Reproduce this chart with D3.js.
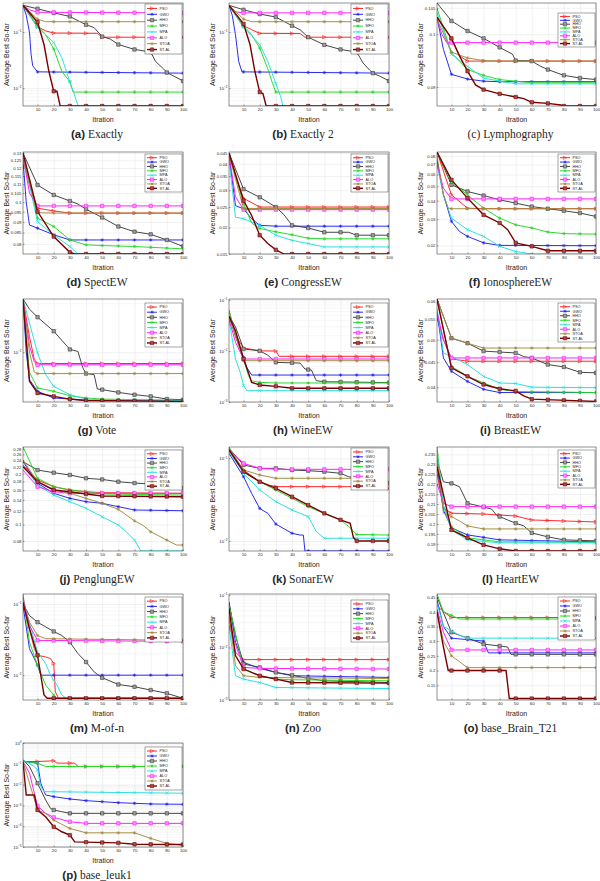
<!DOCTYPE html>
<html>
<head>
<meta charset="utf-8">
<script src="https://d3js.org/d3.v7.min.js"></script>
<style>
  body { margin: 0; background: #fff; }
  svg { display: block; background: #fff; }
  text { font-family: "Liberation Sans", Arial, sans-serif; fill: #262626; }
  .grid line { stroke: #e2e2e2; stroke-width: 0.5px; }
  .grid path { display: none; }
  .minor line { stroke: #eeeeee; stroke-width: 0.5px; }
  .axis path { display: none; }
  .axis line { stroke: #262626; stroke-width: 0.4px; }
  .axis text { font-size: 4.3px; }
  .series { fill: none; }
</style>
</head>
<body>
<div id="container"></div>
<script>

const algos = ["PSO", "GWO", "HHO", "MFO", "MPA", "ALO", "STOA", "ST-AL"];
const iterTicks = [10, 20, 30, 40, 50, 60, 70, 80, 90, 100];

// each panel: 8 series in algos order, [iteration, average best so-far]
const exactlyData = [
  [[1,0.30],[5,0.20],[10,0.125],[15,0.105],[20,0.096],[47,0.095],[50,0.081],[100,0.081]],
  [[1,0.30],[3,0.20],[5,0.10],[6,0.04],[7,0.025],[10,0.0195],[100,0.0185]],
  [[1,0.30],[10,0.26],[20,0.22],[30,0.19],[40,0.135],[45,0.12],[50,0.083],[55,0.075],[60,0.060],[70,0.049],[80,0.044],[83,0.030],[88,0.022],[90,0.019],[95,0.016],[100,0.0134]],
  [[1,0.30],[10,0.13],[15,0.09],[20,0.05],[25,0.02],[30,0.013],[32,0.0085],[100,0.0085]],
  [[1,0.30],[10,0.12],[15,0.09],[20,0.065],[25,0.035],[30,0.013],[34,0.006],[36,0.004],[100,0.004]],
  [[1,0.30],[5,0.25],[10,0.225],[100,0.22]],
  [[1,0.30],[10,0.17],[15,0.153],[100,0.153]],
  [[1,0.30],[10,0.15],[14,0.06],[17,0.02],[20,0.0088],[22,0.0088],[24,0.0048],[100,0.0048]]
];
const exactly2Data = [
  [[1,0.30],[5,0.20],[10,0.13],[15,0.11],[20,0.095],[45,0.094],[48,0.081],[100,0.081]],
  [[1,0.30],[3,0.20],[5,0.09],[7,0.03],[9,0.0195],[100,0.0185]],
  [[1,0.30],[10,0.25],[20,0.21],[30,0.185],[40,0.13],[45,0.11],[50,0.081],[60,0.059],[70,0.049],[80,0.044],[84,0.028],[88,0.021],[90,0.0185],[95,0.016],[100,0.0134]],
  [[1,0.30],[10,0.13],[15,0.09],[20,0.052],[25,0.022],[28,0.012],[30,0.0085],[100,0.0085]],
  [[1,0.30],[10,0.12],[15,0.085],[20,0.06],[25,0.03],[30,0.012],[33,0.007],[35,0.004],[100,0.004]],
  [[1,0.30],[5,0.23],[10,0.22],[100,0.22]],
  [[1,0.30],[10,0.17],[15,0.153],[100,0.153]],
  [[1,0.30],[10,0.14],[14,0.06],[17,0.02],[20,0.0085],[22,0.008],[24,0.0048],[100,0.0048]]
];
const lymphData = [
  [[1,0.1032],[10,0.0992],[15,0.0959],[20,0.0949],[100,0.0949]],
  [[1,0.1032],[5,0.0971],[10,0.0924],[20,0.0915],[30,0.0911],[40,0.0910],[100,0.0910]],
  [[1,0.1059],[10,0.1025],[20,0.1006],[30,0.0992],[40,0.0975],[48,0.0962],[50,0.0950],[60,0.0949],[65,0.0940],[70,0.0933],[80,0.0922],[90,0.0917],[100,0.0914]],
  [[1,0.1049],[10,0.0965],[20,0.0933],[30,0.0922],[40,0.0914],[50,0.0911],[60,0.0908],[100,0.0908]],
  [[1,0.1041],[10,0.0962],[20,0.0939],[30,0.0917],[40,0.0911],[50,0.0906],[100,0.0906]],
  [[1,0.1029],[4,0.1000],[7,0.0984],[100,0.0984]],
  [[1,0.1029],[10,0.0966],[20,0.0955],[30,0.0950],[40,0.0949],[100,0.0949]],
  [[1,0.1032],[10,0.0992],[15,0.0959],[20,0.0930],[25,0.0904],[30,0.0895],[40,0.0887],[50,0.0881],[55,0.0878],[60,0.0871],[70,0.0869],[78,0.0866],[80,0.0864],[100,0.0864]]
];
const spectData = [
  [[1,0.127],[5,0.11],[10,0.0968],[20,0.0954],[30,0.0943],[100,0.0943]],
  [[1,0.125],[3,0.10],[5,0.0885],[10,0.087],[20,0.084],[30,0.0817],[100,0.0817]],
  [[1,0.13],[10,0.1096],[20,0.1039],[30,0.1006],[35,0.099],[40,0.0963],[50,0.0921],[60,0.0878],[70,0.0854],[80,0.0842],[90,0.0817],[100,0.0789]],
  [[1,0.1307],[10,0.0918],[20,0.0878],[30,0.0817],[40,0.0796],[50,0.0793],[70,0.0789],[100,0.0779]],
  [[1,0.128],[10,0.0901],[20,0.0839],[30,0.0789],[35,0.0758],[100,0.0758]],
  [[1,0.128],[5,0.105],[10,0.098],[100,0.098]],
  [[1,0.125],[10,0.0945],[20,0.0943],[100,0.0943]],
  [[1,0.13],[10,0.0951],[20,0.0832],[30,0.0765],[33,0.0758],[100,0.0758]]
];
const congressData = [
  [[1,0.045],[5,0.035],[10,0.0275],[20,0.0250],[100,0.0250]],
  [[1,0.044],[5,0.0254],[10,0.0245],[15,0.022],[20,0.0205],[30,0.0203],[100,0.0203]],
  [[1,0.045],[10,0.0304],[20,0.0278],[30,0.0250],[35,0.023],[40,0.0205],[50,0.0199],[60,0.0190],[75,0.0190],[80,0.0184],[100,0.0184]],
  [[1,0.045],[10,0.0259],[15,0.021],[20,0.0198],[30,0.0191],[40,0.0185],[50,0.0178],[60,0.0177],[100,0.0177]],
  [[1,0.042],[5,0.0224],[10,0.022],[20,0.0205],[30,0.0184],[40,0.0174],[50,0.0168],[60,0.0162],[100,0.0162]],
  [[1,0.044],[5,0.028],[10,0.0243],[100,0.0243]],
  [[1,0.044],[10,0.0246],[100,0.0246]],
  [[1,0.045],[10,0.0268],[15,0.0228],[20,0.0184],[25,0.0168],[30,0.0157],[35,0.015],[100,0.015]]
];
const ionoData = [
  [[1,0.085],[10,0.0438],[20,0.0356],[30,0.0353],[100,0.0353]],
  [[1,0.075],[5,0.0438],[10,0.0290],[15,0.0248],[20,0.0230],[30,0.0208],[40,0.0200],[100,0.0199]],
  [[1,0.085],[10,0.0511],[20,0.0461],[30,0.0433],[40,0.0405],[50,0.0385],[60,0.0365],[70,0.0353],[80,0.0342],[90,0.0330],[100,0.0313]],
  [[1,0.085],[10,0.0538],[20,0.0438],[30,0.0356],[40,0.0305],[50,0.0275],[60,0.0262],[70,0.0246],[80,0.0240],[100,0.0238]],
  [[1,0.07],[5,0.0438],[10,0.0305],[20,0.0255],[30,0.0230],[40,0.0197],[50,0.0182],[60,0.0175],[100,0.0175]],
  [[1,0.07],[5,0.0486],[10,0.0411],[100,0.0411]],
  [[1,0.08],[5,0.0438],[8,0.0356],[10,0.0353],[100,0.0353]],
  [[1,0.085],[10,0.0552],[20,0.0416],[30,0.0321],[40,0.0283],[45,0.0255],[50,0.0208],[60,0.0197],[70,0.0184],[100,0.0184]]
];
const voteData = [
  [[1,0.0214],[5,0.0125],[8,0.0090],[10,0.0085],[100,0.0085]],
  [[1,0.0214],[3,0.010],[5,0.00675],[10,0.00571],[20,0.00519],[30,0.00511],[40,0.00501],[100,0.00501]],
  [[1,0.0214],[5,0.0185],[10,0.0165],[20,0.0135],[30,0.0104],[35,0.0101],[38,0.0080],[40,0.00736],[45,0.00725],[47,0.0059],[50,0.00585],[60,0.00562],[70,0.00544],[80,0.00531],[90,0.00511],[100,0.00506]],
  [[1,0.0214],[5,0.0075],[10,0.00599],[20,0.00571],[30,0.00536],[40,0.00519],[50,0.00511],[100,0.00501]],
  [[1,0.0214],[10,0.0099],[15,0.00725],[20,0.00613],[30,0.00544],[40,0.00511],[50,0.00506],[100,0.00501]],
  [[1,0.0214],[5,0.011],[8,0.0087],[10,0.00835],[100,0.00835]],
  [[1,0.0214],[5,0.010],[8,0.0075],[10,0.00736],[100,0.00736]],
  [[1,0.0214],[5,0.00659],[10,0.00557],[20,0.00531],[30,0.00511],[40,0.00501],[100,0.00494]]
];
const wineData = [
  [[1,0.0636],[5,0.02],[10,0.0115],[20,0.0101],[30,0.0100],[32,0.00787],[100,0.00787]],
  [[1,0.0485],[5,0.02],[10,0.0075],[12,0.0048],[15,0.00338],[100,0.00338]],
  [[1,0.0485],[5,0.03],[10,0.011],[20,0.0101],[25,0.0083],[30,0.0060],[45,0.0058],[48,0.00443],[52,0.00424],[55,0.00262],[60,0.0025],[100,0.0024]],
  [[1,0.0636],[5,0.02],[10,0.007],[13,0.0033],[15,0.0026],[20,0.00243],[30,0.00236],[100,0.00236]],
  [[1,0.0424],[5,0.007],[8,0.0038],[10,0.0021],[12,0.00167],[100,0.00167]],
  [[1,0.0424],[5,0.015],[10,0.00697],[100,0.00697]],
  [[1,0.0485],[5,0.02],[10,0.00646],[100,0.00646]],
  [[1,0.0485],[5,0.025],[10,0.007],[13,0.0038],[15,0.00243],[20,0.00216],[30,0.00203],[40,0.00186],[100,0.00186]]
];
const breastData = [
  [[1,0.0554],[5,0.050],[10,0.0457],[20,0.0452],[100,0.0452]],
  [[1,0.0571],[5,0.0459],[10,0.0431],[20,0.0411],[30,0.0396],[40,0.0390],[100,0.0390]],
  [[1,0.0606],[10,0.0504],[20,0.0492],[30,0.0474],[50,0.0470],[55,0.0462],[60,0.0459],[70,0.0445],[80,0.0440],[90,0.0429],[100,0.0428]],
  [[1,0.0606],[10,0.0441],[20,0.0421],[30,0.0408],[40,0.0396],[50,0.0392],[100,0.0390]],
  [[1,0.058],[5,0.047],[10,0.0462],[20,0.0445],[30,0.0421],[40,0.0408],[50,0.0407],[60,0.0400],[100,0.0399]],
  [[1,0.0571],[5,0.050],[10,0.0459],[100,0.0459]],
  [[1,0.0606],[10,0.0504],[20,0.0492],[30,0.0481],[100,0.0481]],
  [[1,0.0606],[10,0.0438],[20,0.0421],[30,0.0405],[40,0.0397],[50,0.0393],[55,0.0384],[60,0.0378],[100,0.0374]]
];
const penglungData = [
  [[1,0.2251],[10,0.1836],[20,0.1675],[30,0.1602],[40,0.1565],[50,0.1545],[100,0.1531]],
  [[1,0.2355],[10,0.1755],[20,0.1531],[30,0.1430],[40,0.1366],[50,0.1336],[60,0.1276],[70,0.1220],[100,0.1208]],
  [[1,0.2355],[10,0.2102],[20,0.2028],[30,0.1965],[40,0.1879],[50,0.1850],[60,0.1793],[70,0.1760],[80,0.1738],[90,0.1690],[100,0.1640]],
  [[1,0.2877],[10,0.1879],[20,0.1675],[30,0.1602],[40,0.1565],[50,0.1517],[100,0.1496]],
  [[1,0.2251],[10,0.1714],[20,0.1496],[30,0.1366],[40,0.1248],[50,0.1113],[60,0.0994],[65,0.0907],[70,0.0810],[74,0.0698],[100,0.0698]],
  [[1,0.2102],[10,0.1675],[20,0.1565],[30,0.1531],[100,0.1531]],
  [[1,0.2411],[10,0.1793],[20,0.1602],[30,0.1531],[40,0.1430],[50,0.1336],[60,0.1231],[70,0.1052],[75,0.0994],[80,0.0907],[90,0.0810],[96,0.0757],[100,0.0757]],
  [[1,0.2200],[10,0.1793],[20,0.1602],[30,0.1565],[40,0.1517],[50,0.1476],[100,0.1462]]
];
const sonarData = [
  [[1,0.1322],[10,0.0722],[20,0.0521],[25,0.0476],[30,0.0454],[90,0.0454],[100,0.0434]],
  [[1,0.1149],[10,0.0599],[15,0.0377],[20,0.0248],[25,0.0216],[30,0.0160],[40,0.0124],[45,0.0118],[47,0.0118],[48,0.00757],[100,0.00757]],
  [[1,0.1322],[10,0.0830],[20,0.0756],[30,0.0756],[40,0.0722],[50,0.0708],[60,0.0689],[70,0.0659],[75,0.0599],[80,0.0573],[90,0.0546],[100,0.0499]],
  [[1,0.137],[10,0.0689],[20,0.0521],[30,0.0414],[40,0.0328],[50,0.0260],[60,0.0216],[70,0.0180],[75,0.0150],[80,0.0120],[100,0.0118]],
  [[1,0.1202],[10,0.0659],[20,0.0414],[30,0.0299],[40,0.0237],[50,0.0197],[55,0.0130],[60,0.0108],[100,0.0108]],
  [[1,0.126],[10,0.0870],[20,0.0756],[30,0.0736],[100,0.0736]],
  [[1,0.126],[10,0.0722],[20,0.0629],[30,0.0573],[80,0.0573],[85,0.0521],[100,0.0521]],
  [[1,0.126],[10,0.0689],[20,0.0521],[30,0.0434],[40,0.0343],[50,0.0272],[60,0.0216],[70,0.0180],[76,0.0164],[78,0.0110],[80,0.0100],[100,0.0100]]
];
const heartData = [
  [[1,0.2255],[5,0.208],[10,0.2054],[30,0.2050],[50,0.2040],[60,0.2020],[100,0.2010]],
  [[1,0.2296],[5,0.2070],[10,0.1980],[20,0.1945],[40,0.1920],[100,0.1910]],
  [[1,0.2321],[5,0.2212],[10,0.2204],[15,0.2187],[20,0.2104],[30,0.2085],[35,0.2075],[38,0.2045],[40,0.2037],[45,0.2020],[50,0.2004],[55,0.1990],[60,0.1955],[70,0.1935],[80,0.1920],[100,0.1915]],
  [[1,0.2387],[5,0.2095],[10,0.1985],[20,0.1930],[40,0.1910],[100,0.1908]],
  [[1,0.2355],[5,0.2090],[10,0.1970],[20,0.1920],[40,0.1905],[100,0.1905]],
  [[1,0.2204],[5,0.2104],[10,0.2087],[100,0.2087]],
  [[1,0.2338],[5,0.2054],[10,0.2037],[15,0.2015],[20,0.1990],[30,0.1975],[100,0.1975]],
  [[1,0.2288],[10,0.1970],[20,0.1930],[30,0.1895],[40,0.1875],[50,0.1864],[100,0.1864]]
];
const mofnData = [
  [[1,0.1052],[8,0.0236],[10,0.0190],[15,0.0180],[18,0.0171],[20,0.0146],[21,0.00585],[23,0.00473],[100,0.00473]],
  [[1,0.0947],[5,0.0236],[8,0.0171],[10,0.0138],[12,0.0100],[100,0.0100]],
  [[1,0.1],[5,0.0687],[10,0.0554],[20,0.0411],[25,0.0361],[30,0.0291],[35,0.0201],[40,0.0153],[45,0.0111],[50,0.0092],[60,0.0074],[70,0.00687],[80,0.00618],[90,0.00556],[100,0.00473]],
  [[1,0.138],[5,0.0291],[10,0.0138],[15,0.00725],[20,0.00526],[22,0.00473],[100,0.00473]],
  [[1,0.1174],[10,0.0211],[15,0.0146],[18,0.0100],[22,0.00725],[25,0.00526],[28,0.00473],[100,0.00473]],
  [[1,0.1236],[5,0.0498],[10,0.0308],[100,0.0298]],
  [[1,0.1052],[5,0.0554],[10,0.0361],[15,0.0325],[100,0.0308]],
  [[1,0.1052],[5,0.0448],[10,0.0190],[12,0.0100],[14,0.00526],[16,0.00473],[100,0.00473]]
];
const zooData = [
  [[1,0.0356],[5,0.00812],[10,0.00588],[100,0.00588]],
  [[1,0.0743],[5,0.0127],[10,0.00521],[20,0.00400],[30,0.00335],[40,0.00290],[100,0.00269]],
  [[1,0.0692],[5,0.0170],[10,0.00486],[20,0.00418],[30,0.00335],[40,0.00298],[50,0.00257],[60,0.00232],[100,0.00215]],
  [[1,0.0642],[10,0.00389],[20,0.00290],[30,0.00250],[40,0.00243],[100,0.00232]],
  [[1,0.0265],[5,0.00290],[10,0.00250],[20,0.00215],[30,0.00173],[100,0.00165]],
  [[1,0.0265],[10,0.00418],[20,0.00400],[100,0.00389]],
  [[1,0.0412],[5,0.00451],[10,0.00290],[20,0.00269],[100,0.00257]],
  [[1,0.0554],[5,0.00702],[10,0.00389],[20,0.00290],[30,0.00250],[40,0.00215],[100,0.00210]]
];
const brainData = [
  [[1,0.42],[5,0.40],[10,0.38],[100,0.38]],
  [[1,0.44],[5,0.35],[10,0.31],[30,0.30],[33,0.26],[100,0.26]],
  [[1,0.45],[10,0.33],[20,0.31],[30,0.29],[45,0.28],[47,0.255],[100,0.255]],
  [[1,0.46],[5,0.40],[15,0.375],[100,0.375]],
  [[1,0.43],[5,0.35],[15,0.32],[20,0.31],[100,0.31]],
  [[1,0.41],[5,0.33],[10,0.27],[100,0.27]],
  [[1,0.40],[5,0.30],[10,0.25],[20,0.21],[100,0.21]],
  [[1,0.40],[5,0.28],[8,0.20],[44,0.20],[46,0.105],[100,0.105]]
];
const leukData = [
  [[1,0.129],[10,0.129],[20,0.1396],[22,0.108],[33,0.108],[35,0.0741],[100,0.0741]],
  [[1,0.129],[10,0.108],[12,0.0117],[15,0.00318],[20,0.00263],[30,0.00204],[40,0.00169],[50,0.00151],[60,0.00135],[70,0.00126],[80,0.00117],[100,0.00113]],
  [[1,0.156],[5,0.0741],[10,0.0117],[15,0.00182],[18,0.00072],[20,0.0006],[25,0.000497],[30,0.000415],[100,0.000415]],
  [[1,0.129],[10,0.108],[15,0.0741],[100,0.0741]],
  [[1,0.156],[8,0.0741],[10,0.0513],[12,0.0080],[14,0.00459],[100,0.00384]],
  [[1,0.129],[5,0.0356],[10,0.00094],[15,0.000415],[20,0.000266],[30,0.000163],[40,0.000137],[100,0.000137]],
  [[1,0.129],[10,0.0006],[15,0.000415],[20,0.000197],[30,7.8e-5],[40,4.8e-5],[70,4.8e-5],[80,2.6e-5],[90,1.48e-5],[100,1.22e-5]],
  [[1,0.129],[3,0.00318],[8,0.00318],[10,0.0006],[15,0.000284],[20,9.35e-5],[25,5.4e-5],[30,3.7e-5],[33,1.76e-5],[60,1.58e-5],[70,1.36e-5],[100,1.32e-5]]
];

// y tick values per panel
const ticksExactly = [0.01, 0.1];
const ticksLymph = [0.09, 0.1, 0.105];
const ticksSpect = [0.08, 0.085, 0.09, 0.095, 0.1, 0.105, 0.11, 0.115, 0.12, 0.125, 0.13];
const ticksCongress = [0.015, 0.02, 0.025, 0.03, 0.035, 0.04, 0.045];
const ticksIono = [0.02, 0.03, 0.04, 0.05, 0.06, 0.07, 0.08];
const ticksVote = [0.01];
const ticksWine = [0.001, 0.01, 0.1];
const ticksBreast = [0.04, 0.045, 0.05, 0.055, 0.06];
const ticksPenglung = [0.08, 0.1, 0.12, 0.14, 0.16, 0.18, 0.2, 0.22, 0.24, 0.26, 0.28];
const ticksSonar = [0.01, 0.1];
const ticksHeart = [0.19, 0.195, 0.2, 0.205, 0.21, 0.215, 0.22, 0.225, 0.23, 0.235];
const ticksMofn = [0.01, 0.1];
const ticksZoo = [0.001, 0.01, 0.1];
const ticksBrain = [0.15, 0.2, 0.25, 0.3, 0.35, 0.4, 0.45];
const ticksLeuk = [1e-5, 1e-4, 1e-3, 1e-2, 1e-1, 1];

const panels = [
  { tag: "(a)", name: "Exactly", data: exactlyData, scale: "log", decade: true, domain: [0.0048, 0.33], ticks: ticksExactly },
  { tag: "(b)", name: "Exactly 2", data: exactly2Data, scale: "log", decade: true, domain: [0.0048, 0.33], ticks: ticksExactly },
  { tag: "(c)", name: "Lymphography", data: lymphData, scale: "linear", domain: [0.0864, 0.1059], ticks: ticksLymph, plain: true },
  { tag: "(d)", name: "SpectEW", data: spectData, scale: "log", domain: [0.0758, 0.1307], ticks: ticksSpect },
  { tag: "(e)", name: "CongressEW", data: congressData, scale: "log", domain: [0.015, 0.0455], ticks: ticksCongress },
  { tag: "(f)", name: "IonosphereEW", data: ionoData, scale: "log", domain: [0.0175, 0.085], ticks: ticksIono },
  { tag: "(g)", name: "Vote", data: voteData, scale: "log", decade: true, domain: [0.0049, 0.0214], ticks: ticksVote },
  { tag: "(h)", name: "WineEW", data: wineData, scale: "log", decade: true, domain: [0.001, 0.105], ticks: ticksWine },
  { tag: "(i)", name: "BreastEW", data: breastData, scale: "log", domain: [0.0373, 0.0606], ticks: ticksBreast },
  { tag: "(j)", name: "PenglungEW", data: penglungData, scale: "log", domain: [0.0698, 0.2877], ticks: ticksPenglung },
  { tag: "(k)", name: "SonarEW", data: sonarData, scale: "log", decade: true, domain: [0.00757, 0.137], ticks: ticksSonar },
  { tag: "(l)", name: "HeartEW", data: heartData, scale: "linear", domain: [0.1864, 0.2387], ticks: ticksHeart },
  { tag: "(m)", name: "M-of-n", data: mofnData, scale: "log", decade: true, domain: [0.00448, 0.138], ticks: ticksMofn },
  { tag: "(n)", name: "Zoo", data: zooData, scale: "log", decade: true, domain: [0.001, 0.1045], ticks: ticksZoo },
  { tag: "(o)", name: "base_Brain_T21", data: brainData, scale: "linear", domain: [0.1, 0.46], ticks: ticksBrain },
  { tag: "(p)", name: "base_leuk1", data: leukData, scale: "log", decade: true, domain: [1e-5, 1], ticks: ticksLeuk }
];

// layout
const colX = [23, 229, 437];
const plotW = [160, 160, 159];
const rowY = [3, 152, 299, 447, 594, 743];
const plotH = [103, 102, 103, 104, 106, 104];
const legendTop = [1, 1, 10, 2, 2, 2, 4, 4, 4, 3, 1, 3, 3, 6, 3, 4];
const legendH = [50, 50, 34, 38, 38, 38, 44, 44, 39, 40, 42, 38, 45, 42, 43, 43];

const colors = ["#ff1f1f", "#2020f0", "#3c3c3c", "#22d822", "#22dede", "#ff20ff", "#a08a3c", "#7a0000"];
const markerType = ["tri", "star", "square", "star", "x", "square", "star", "square"];
const markerFill = ["none", "none", "#9c9c9c", "none", "none", "#ff8cff", "none", "#a84a4a"];
const lineW = [0.95, 0.95, 0.95, 0.95, 0.95, 1.0, 0.95, 1.4];

function markerPath(type) {
  const r = 1.7;
  if (type === "tri") return `M${-r},${-r}L${r},0L${-r},${r}Z`;
  if (type === "square") return `M${-r},${-r}H${r}V${r}H${-r}Z`;
  if (type === "x") return `M${-r},${-r}L${r},${r}M${-r},${r}L${r},${-r}`;
  const d = r * 0.72;
  return `M${-r},0H${r}M0,${-r}V${r}M${-d},${-d}L${d},${d}M${-d},${d}L${d},${-d}`;
}

const svg = d3.select("#container").append("svg")
  .attr("width", 600).attr("height", 881);

function drawPanel(p, i) {
  const col = i % 3, row = Math.floor(i / 3);
  const x0 = colX[col], y0 = rowY[row], w = plotW[col], h = plotH[row];
  const g = svg.append("g").attr("transform", `translate(${x0},${y0})`);

  const x = d3.scaleLinear().domain([1, 100]).range([0, w]);
  const y = (p.scale === "log" ? d3.scaleLog() : d3.scaleLinear()).domain(p.domain).range([h, 0]);

  const clipId = "clip" + i;
  g.append("clipPath").attr("id", clipId).append("rect").attr("width", w).attr("height", h);

  // minor grid on decade log axes
  if (p.decade) {
    const minor = [];
    const k0 = Math.floor(Math.log10(p.domain[0])), k1 = Math.ceil(Math.log10(p.domain[1]));
    for (let k = k0; k <= k1; k++) {
      for (let m = 2; m <= 9; m++) {
        const v = m * Math.pow(10, k);
        if (v > p.domain[0] && v < p.domain[1]) minor.push(v);
      }
    }
    g.append("g").attr("class", "minor").selectAll("line").data(minor).join("line")
      .attr("x1", 0).attr("x2", w).attr("y1", d => y(d)).attr("y2", d => y(d));
  }

  g.append("g").attr("class", "grid").attr("transform", `translate(0,${h})`)
    .call(d3.axisBottom(x).tickValues(iterTicks).tickSize(-h).tickFormat(""));
  g.append("g").attr("class", "grid")
    .call(d3.axisLeft(y).tickValues(p.ticks).tickSize(-w).tickFormat(""));

  // series
  const line = d3.line().x(d => x(d[0])).y(d => y(d[1]));
  const sg = g.append("g").attr("clip-path", `url(#${clipId})`);
  p.data.forEach((pts, s) => {
    sg.append("path").attr("class", "series")
      .attr("d", line(pts))
      .attr("stroke", colors[s]).attr("stroke-width", lineW[s]);
    // markers sit on the drawn path at every 10th iteration
    const yAt = m => {
      for (let k = 1; k < pts.length; k++) {
        if (pts[k][0] >= m) {
          const a = pts[k - 1], b = pts[k];
          const t = (m - a[0]) / (b[0] - a[0]);
          return y(a[1]) + (y(b[1]) - y(a[1])) * t;
        }
      }
      return y(pts[pts.length - 1][1]);
    };
    sg.append("g").selectAll("path").data(iterTicks).join("path")
      .attr("transform", m => `translate(${x(m)},${yAt(m)})`)
      .attr("d", markerPath(markerType[s]))
      .attr("fill", markerFill[s])
      .attr("stroke", colors[s]).attr("stroke-width", 0.6);
  });

  // axes box + ticks
  g.append("rect").attr("width", w).attr("height", h)
    .attr("fill", "none").attr("stroke", "#262626").attr("stroke-width", 0.5);

  g.append("g").attr("class", "axis").attr("transform", `translate(0,${h})`)
    .call(d3.axisBottom(x).tickValues(iterTicks).tickSize(-1.5).tickPadding(2));

  const ya = g.append("g").attr("class", "axis")
    .call(d3.axisLeft(y).tickValues(p.ticks).tickSize(-1.5).tickPadding(1.5)
      .tickFormat(d => p.decade ? "" : String(d)));
  if (p.decade) {
    ya.selectAll(".tick text").each(function (d) {
      const t = d3.select(this);
      t.text("10");
      t.append("tspan").attr("dy", "-0.55em").attr("font-size", "3px")
        .text(String(Math.round(Math.log10(d))).replace("-", "\u2212"));
    });
  }

  // legend
  const lw = 37, lh = legendH[i], lx = w - lw - 1, ly = legendTop[i];
  const lg = g.append("g").attr("transform", `translate(${lx},${ly})`);
  lg.append("rect").attr("width", lw).attr("height", lh)
    .attr("fill", "#fff").attr("stroke", "#262626").attr("stroke-width", 0.4);
  const rh = (lh - 3) / algos.length;
  algos.forEach((a, s) => {
    const cy = 1.5 + rh * (s + 0.5);
    lg.append("line").attr("x1", 2).attr("x2", 12).attr("y1", cy).attr("y2", cy)
      .attr("stroke", colors[s]).attr("stroke-width", lineW[s]);
    lg.append("path").attr("transform", `translate(7,${cy})`)
      .attr("d", markerPath(markerType[s])).attr("fill", markerFill[s])
      .attr("stroke", colors[s]).attr("stroke-width", 0.55);
    lg.append("text").attr("x", 14.5).attr("y", cy + 1.3)
      .attr("font-size", "3.8px").text(a);
  });

  // labels
  svg.append("text")
    .attr("transform", `translate(${x0 - 16},${y0 + h / 2}) rotate(-90)`)
    .attr("text-anchor", "middle").attr("dy", "0.35em")
    .attr("font-size", "7px").text("Average Best So-far");
  svg.append("text").attr("x", x0 + w / 2).attr("y", y0 + h + 15.5)
    .attr("text-anchor", "middle").attr("font-size", "7px").text("Itration");

  const cap = svg.append("text").attr("x", x0 + w / 2 - 6).attr("y", y0 + h + 32)
    .attr("text-anchor", "middle").attr("font-size", "11.5px");
  if (p.plain) {
    cap.append("tspan").attr("font-family", "'Liberation Serif', 'Times New Roman', serif")
      .text(p.tag + " " + p.name);
  } else {
    cap.append("tspan").attr("font-weight", "bold").text(p.tag);
    cap.append("tspan").attr("font-family", "'Liberation Serif', 'Times New Roman', serif")
      .text("\u00a0" + p.name);
  }
}

panels.forEach(drawPanel);

</script>
</body>
</html>
